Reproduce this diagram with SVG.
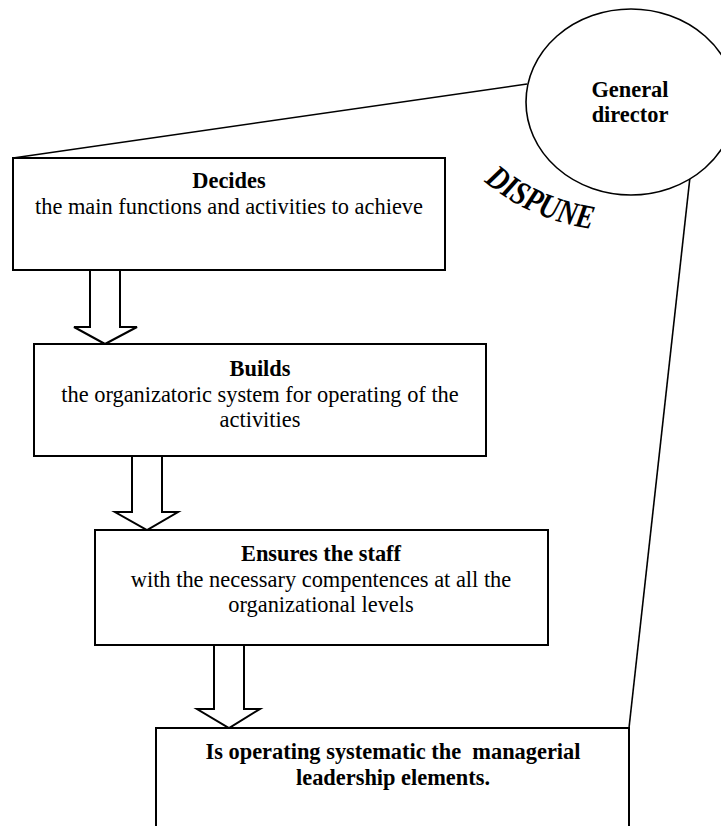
<svg xmlns="http://www.w3.org/2000/svg" width="721" height="826" viewBox="0 0 721 826">
<style>
.box{fill:#fff;stroke:#000;stroke-width:2}
.arr{fill:#fff;stroke:#000;stroke-width:2;stroke-linejoin:miter}
.ln{fill:none;stroke:#000;stroke-width:1.6}
.t{font-family:"Liberation Serif","Times New Roman",serif;font-size:22.4px;fill:#000;text-anchor:middle}
.b{font-weight:bold}
</style>
<defs>
<path id="arc" d="M484,181 Q528,220 598,230"/>
</defs>
<rect width="721" height="826" fill="#fff"/>
<g id="connectors">
<line class="ln" x1="527" y1="84" x2="13" y2="158"/>
<line class="ln" x1="690" y1="177" x2="629" y2="728"/>
</g>
<g id="director">
<ellipse cx="631" cy="102" rx="105" ry="93" fill="#fff" stroke="#000" stroke-width="1.6"/>
<text class="t b" x="630" y="97">General</text>
<text class="t b" x="630" y="122">director</text>
</g>
<g id="dispune">
<text font-family="'Liberation Serif',serif" font-weight="bold" font-style="italic" font-size="34" fill="#000"><textPath href="#arc" textLength="120" lengthAdjust="spacingAndGlyphs">DISPUNE</textPath></text>
</g>
<g id="decides">
<rect class="box" x="13" y="158" width="432" height="112"/>
<text class="t b" x="229" y="188">Decides</text>
<text class="t" x="229" y="214">the main functions and activities to achieve</text>
</g>
<g id="arrow1">
<polygon class="arr" points="90,270 120,270 120,327 137,327 105,344 74,327 90,327"/>
</g>
<g id="builds">
<rect class="box" x="34" y="344" width="452" height="112"/>
<text class="t b" x="260" y="376">Builds</text>
<text class="t" x="260" y="402">the organizatoric system for operating of the</text>
<text class="t" x="260" y="427">activities</text>
</g>
<g id="arrow2">
<polygon class="arr" points="132,456 162,456 162,512 178,512 147,530 115,512 132,512"/>
</g>
<g id="ensures">
<rect class="box" x="95" y="530" width="453" height="115"/>
<text class="t b" x="321" y="561">Ensures the staff</text>
<text class="t" x="321" y="587">with the necessary compentences at all the</text>
<text class="t" x="321" y="612">organizational levels</text>
</g>
<g id="arrow3">
<polygon class="arr" points="214,645 244,645 244,709 260,709 229,728 197,709 214,709"/>
</g>
<g id="operating">
<rect class="box" x="156" y="728" width="473" height="120"/>
<text class="t b" x="393" y="759" xml:space="preserve">Is operating systematic the  managerial</text>
<text class="t b" x="393" y="785">leadership elements.</text>
</g>
</svg>
